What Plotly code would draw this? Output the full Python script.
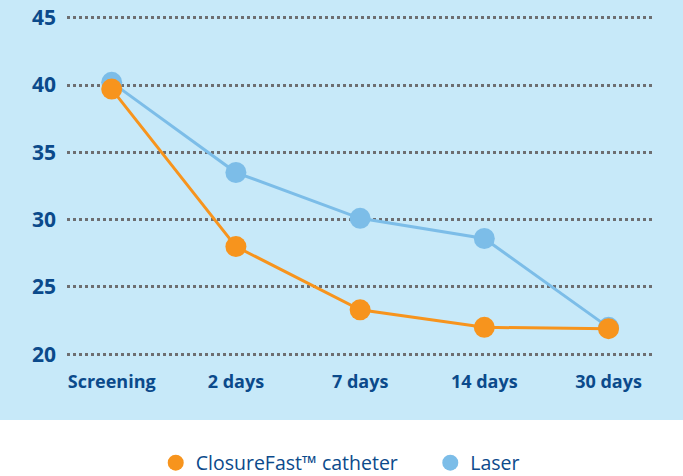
import plotly.graph_objects as go

categories = ["Screening", "2 days", "7 days", "14 days", "30 days"]
closurefast = [39.7, 28.0, 23.3, 22.0, 21.9]
laser = [40.2, 33.5, 30.1, 28.6, 22.0]
y_ticks = [20, 25, 30, 35, 40, 45]

BG = "#c7e9f9"
ORANGE = "#f7941d"
BLUE = "#7cbde8"
TEXT = "#0b4a8b"
FONT = "Open Sans"

fig = go.Figure()
fig.add_trace(go.Scatter(x=categories, y=laser, mode="lines+markers",
                         line=dict(color=BLUE, width=3),
                         marker=dict(color=BLUE, size=21),
                         showlegend=False, cliponaxis=False, hoverinfo="skip"))
fig.add_trace(go.Scatter(x=categories, y=closurefast, mode="lines+markers",
                         line=dict(color=ORANGE, width=3),
                         marker=dict(color=ORANGE, size=21),
                         showlegend=False, cliponaxis=False, hoverinfo="skip"))
# legend entries
fig.add_trace(go.Scatter(x=[None], y=[None], mode="markers", name="ClosureFast™ catheter",
                         marker=dict(color=ORANGE, size=20), legend="legend"))
fig.add_trace(go.Scatter(x=[None], y=[None], mode="markers", name="Laser",
                         marker=dict(color=BLUE, size=20), legend="legend2"))

fig.add_shape(type="rect", xref="paper", yref="paper",
              x0=-0.3, x1=1.3, y0=-0.1686, y1=1.2,
              fillcolor=BG, line=dict(width=0), layer="below")

legend_style = dict(orientation="h", xref="container", yref="container",
                    xanchor="left", yanchor="middle", y=0.0273,
                    font=dict(size=19.5, color=TEXT, family=FONT),
                    bgcolor="rgba(0,0,0,0)", itemwidth=30)

fig.update_layout(
    width=683, height=476,
    margin=dict(l=67, r=31, t=11, b=115),
    paper_bgcolor="white", plot_bgcolor=BG,
    font=dict(family=FONT, color=TEXT),
    legend=dict(x=0.228, **legend_style),
    legend2=dict(x=0.630, **legend_style),
    xaxis=dict(type="category", range=[-0.36, 4.35], showgrid=False, zeroline=False,
               showline=False, ticks="", ticklabelstandoff=8, automargin=False,
               tickfont=dict(size=18, color=TEXT, family=FONT, weight="bold")),
    yaxis=dict(range=[19.5, 45.5], tickvals=y_ticks, showgrid=True,
               gridcolor="#6d6e71", gridwidth=2.5, griddash="dot", zeroline=False,
               showline=False, ticks="", ticklabelstandoff=10, automargin=False,
               tickfont=dict(size=21, color=TEXT, family=FONT, weight="bold")),
)

fig.write_html("out.html", config={"displayModeBar": False},
               post_script="document.body.style.margin='0';document.body.style.overflow='hidden';")
